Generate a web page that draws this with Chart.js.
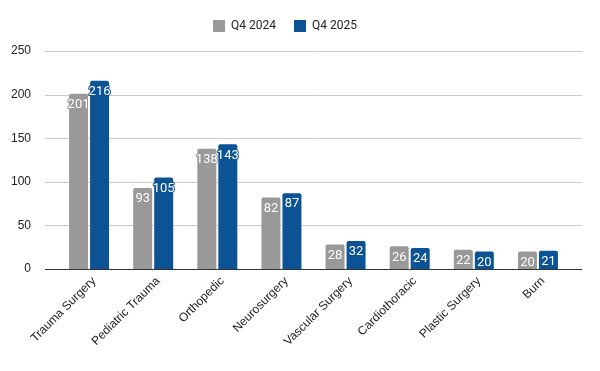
<!DOCTYPE html>
<html>
<head>
<meta charset="utf-8">
<script src="https://cdn.jsdelivr.net/npm/chart.js@4.4.1/dist/chart.umd.min.js"></script>
<style>
  html, body { margin: 0; padding: 0; background: #fff; }
  #wrap { width: 600px; height: 371px; }
</style>
</head>
<body>
<div id="wrap"><canvas id="servicesChart"></canvas></div>
<script>
// chart data
const categories = ['Trauma Surgery', 'Pediatric Trauma', 'Orthopedic', 'Neurosurgery', 'Vascular Surgery', 'Cardiothoracic', 'Plastic Surgery', 'Burn'];
const q4_2024 = [201, 93, 138, 82, 28, 26, 22, 20];
const q4_2025 = [216, 105, 143, 87, 32, 24, 20, 21];
const yTicks = [0, 50, 100, 150, 200, 250];
const seriesColors = ['#999999', '#0b5394'];

// grid lines run a bit wider than the bars, like the sheets chart
const wideGrid = {
  id: 'wideGrid',
  beforeDatasetsDraw(chart) {
    const ctx = chart.ctx;
    const y = chart.scales.y;
    ctx.save();
    yTicks.forEach(v => {
      const py = Math.round(y.getPixelForValue(v)) + 0.5;
      ctx.beginPath();
      ctx.strokeStyle = v === 0 ? '#333333' : '#cccccc';
      ctx.lineWidth = 1;
      ctx.moveTo(45, py);
      ctx.lineTo(582, py);
      ctx.stroke();
    });
    ctx.restore();
  }
};

// white value labels near the top of each bar, with a halo in the bar colour
const barValues = {
  id: 'barValues',
  afterDatasetsDraw(chart) {
    const ctx = chart.ctx;
    ctx.save();
    ctx.font = '13px Roboto';
    ctx.textAlign = 'center';
    ctx.textBaseline = 'middle';
    ctx.lineJoin = 'round';
    chart.data.datasets.forEach((ds, i) => {
      chart.getDatasetMeta(i).data.forEach((bar, j) => {
        const txt = String(ds.data[j]);
        ctx.strokeStyle = seriesColors[i];
        ctx.lineWidth = 2;
        ctx.strokeText(txt, bar.x, bar.y + 11);
        ctx.fillStyle = '#ffffff';
        ctx.fillText(txt, bar.x, bar.y + 11);
      });
    });
    ctx.restore();
  }
};

// extra room under the legend
const legendSpace = {
  id: 'legendSpace',
  afterInit(chart) {
    const fit = chart.legend.fit;
    chart.legend.fit = function() {
      fit.call(this);
      this.height += 9;
    };
  }
};

new Chart(document.getElementById('servicesChart').getContext('2d'), {
  type: 'bar',
  data: {
    labels: categories,
    datasets: [
      {
        label: 'Q4 2024',
        data: q4_2024,
        backgroundColor: seriesColors[0],
        borderRadius: { topLeft: 2, topRight: 2 },
        borderSkipped: 'bottom',
        barPercentage: 0.905,
        categoryPercentage: 0.655
      },
      {
        label: 'Q4 2025',
        data: q4_2025,
        backgroundColor: seriesColors[1],
        borderRadius: { topLeft: 2, topRight: 2 },
        borderSkipped: 'bottom',
        barPercentage: 0.905,
        categoryPercentage: 0.655
      }
    ]
  },
  options: {
    responsive: true,
    maintainAspectRatio: false,
    animation: false,
    layout: { padding: { top: 2, right: 30, bottom: 0, left: 0 } },
    plugins: {
      legend: {
        display: true,
        position: 'top',
        labels: {
          boxWidth: 12,
          boxHeight: 12,
          padding: 18,
          color: '#222222',
          font: { family: 'Roboto', size: 12 }
        }
      },
      tooltip: { enabled: false }
    },
    scales: {
      x: {
        grid: { display: false },
        border: { display: false },
        ticks: {
          minRotation: 45,
          maxRotation: 45,
          padding: -3,
          labelOffset: 5,
          color: '#222222',
          font: { family: 'Liberation Sans', size: 12 }
        },
        afterFit(scale) { scale.height = 102; }
      },
      y: {
        min: 0,
        max: 250,
        grid: { display: false },
        border: { display: false },
        ticks: {
          stepSize: 50,
          padding: 18,
          color: '#222222',
          font: { family: 'Liberation Sans', size: 12 }
        },
        afterFit(scale) { scale.width = 57; }
      }
    }
  },
  plugins: [wideGrid, barValues, legendSpace]
});
</script>
</body>
</html>
